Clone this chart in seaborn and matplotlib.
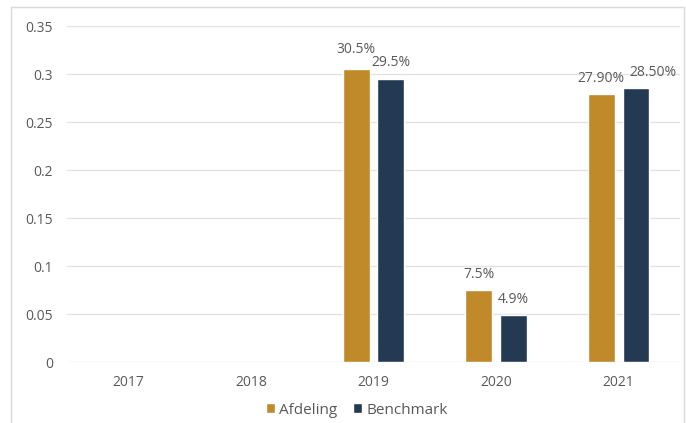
import numpy as np
import pandas as pd
import seaborn as sns
import matplotlib.pyplot as plt
from matplotlib.patches import Rectangle

# Data
years = ['2017', '2018', '2019', '2020', '2021']
afdeling = [np.nan, np.nan, 0.305, 0.075, 0.279]
benchmark = [np.nan, np.nan, 0.295, 0.049, 0.285]
afdeling_labels = ['', '', '30.5%', '7.5%', '27.90%']
benchmark_labels = ['', '', '29.5%', '4.9%', '28.50%']

# kleine verschuivingen van labels (punten), zoals in het origineel
afdeling_nudge = [(0, 0), (0, 0), (0, 3), (0, 0), (0, 0)]
benchmark_nudge = [(0, 0), (0, 0), (0, 0), (0, 0), (12, 0)]

df = pd.DataFrame({'year': years * 2,
                   'value': afdeling + benchmark,
                   'serie': ['Afdeling'] * 5 + ['Benchmark'] * 5})

sns.set_style('white')
plt.rcParams['font.family'] = ['Open Sans', 'DejaVu Sans']
text_col = '#595959'

fig = plt.figure(figsize=(6.86, 4.23), dpi=100)
ax = fig.add_axes([67 / 686, 61 / 423, 613 / 686, 336 / 423])

# Rand om de grafiek
fig.patches.append(Rectangle((11 / 686, -0.05), 673 / 686, 1.05 - 7 / 423,
                             transform=fig.transFigure, fill=False,
                             edgecolor='#D9D9D9', linewidth=1))

sns.barplot(data=df, x='year', y='value', hue='serie', order=years,
            palette=['#C0892A', '#243A52'], saturation=1,
            width=0.566, gap=0.23, ax=ax, zorder=3)

ax.set_ylim(0, 0.35)
ax.set_yticks(np.arange(0, 0.351, 0.05))
ax.set_yticklabels(['0', '0.05', '0.1', '0.15', '0.2', '0.25', '0.3', '0.35'])
ax.yaxis.grid(True, color='#E3E3E3', linewidth=1, zorder=0)
ax.set_axisbelow(True)
for s in ax.spines.values():
    s.set_visible(False)
ax.tick_params(axis='both', colors=text_col, labelsize=10, length=0, pad=10)
ax.tick_params(axis='x', pad=9)
ax.set_xlabel('')
ax.set_ylabel('')

# Labels boven de staven (lege jaren hebben geen staaf)
for cont, labs, nudge in zip(ax.containers, [afdeling_labels, benchmark_labels],
                             [afdeling_nudge, benchmark_nudge]):
    for bar in cont:
        i = int(round(bar.get_x() + bar.get_width() / 2))
        dx, dy = nudge[i]
        ax.annotate(labs[i], (bar.get_x() + bar.get_width() / 2, bar.get_height()),
                    xytext=(dx, 6 + dy), textcoords='offset points',
                    ha='center', va='bottom', color=text_col, fontsize=10)

ax.legend(loc='upper center', bbox_to_anchor=(0.473, -0.08), ncol=2,
          frameon=False, handlelength=0.6, handleheight=0.6,
          handletextpad=0.3, columnspacing=1.0, labelcolor=text_col,
          fontsize=11)

fig.savefig('out.png', dpi=100)
